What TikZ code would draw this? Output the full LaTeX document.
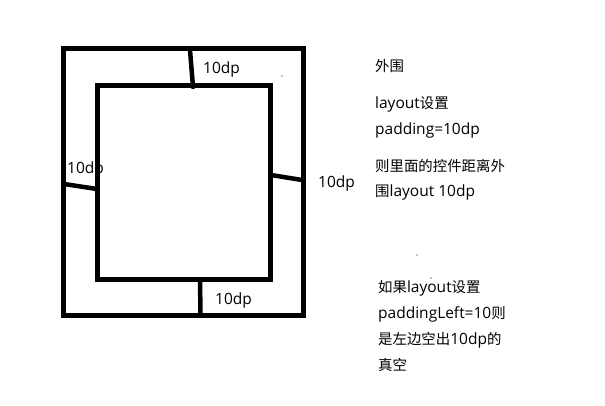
\documentclass[tikz,border=0pt]{standalone}
\usepackage{fontspec}
\setmainfont{Open Sans}
\newfontfamily\cjk[Scale=0.93]{Noto Sans CJK SC}
\begin{document}
\begin{tikzpicture}[x=1pt,y=-1pt,
  box/.style={line width=5pt,line join=miter},
  link/.style={line width=4.5pt,line cap=round},
  lbl/.style={anchor=base west,inner sep=0pt,font=\fontsize{15.5}{18}\selectfont},
  speck/.style={fill=black}]
\useasboundingbox (0,0) rectangle (605,406);
% labels under the frames
\node[lbl] (ltop) at (203,74) {10dp};
\node[lbl] (lleft) at (67,174) {10dp};
\node[lbl] (lright) at (318,188) {10dp};
\node[lbl] (lbottom) at (215,304) {10dp};
% frames
\coordinate (o1) at (63,49);
\coordinate (o2) at (303.5,315);
\coordinate (i1) at (97.5,86);
\coordinate (i2) at (270.5,279);
\draw[box] (o1) rectangle (o2);
\draw[box] (i1) rectangle (i2);
% connectors
\coordinate (tA) at (190,50);
\coordinate (tB) at (193,87);
\coordinate (lA) at (64,184);
\coordinate (lB) at (97,189);
\coordinate (rA) at (271,175);
\coordinate (rB) at (302,180);
\coordinate (bA) at (200,280);
\coordinate (bB) at (200.5,314);
\draw[link] (tA) -- (tB);
\draw[link] (lA) -- (lB);
\draw[link] (rA) -- (rB);
\draw[link] (bA) -- (bB);
% specks
\fill[speck] (282,76) circle (0.7);
\fill[speck] (417,255) circle (0.7);
\fill[speck] (431,278) circle (0.7);
% notes
\node[lbl] (n1) at (375,72) {\cjk 外围};
\node[lbl] (n2) at (375,109) {layout{\cjk 设置}};
\node[lbl] (n3) at (375,135) {padding=10dp};
\node[lbl] (n4) at (375,172) {\cjk 则里面的控件距离外};
\node[lbl] (n5) at (375,197) {{\cjk 围}layout 10dp};
\node[lbl] (n6) at (378,292) {{\cjk 如果}layout{\cjk 设置}};
\node[lbl] (n7) at (378,318) {paddingLeft=10{\cjk 则}};
\node[lbl] (n8) at (378,344) {{\cjk 是左边空出}10dp{\cjk 的}};
\node[lbl] (n9) at (378,370) {\cjk 真空};
\end{tikzpicture}
\end{document}
